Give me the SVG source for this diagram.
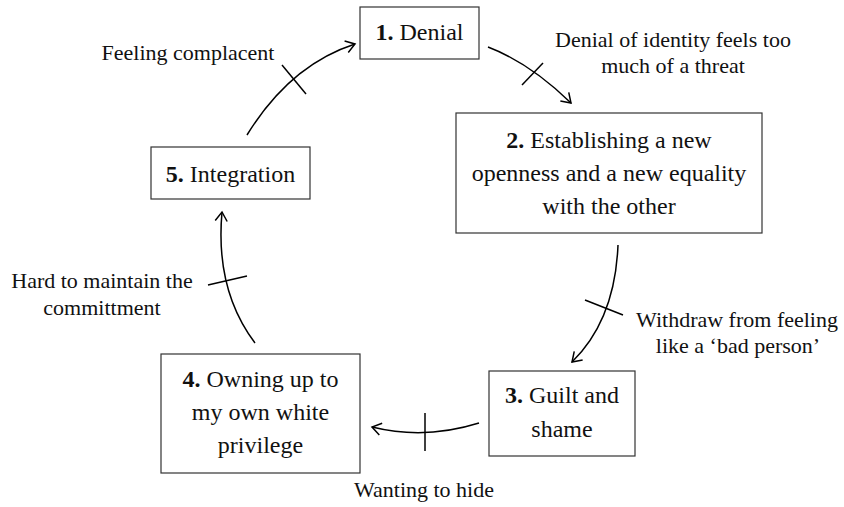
<svg xmlns="http://www.w3.org/2000/svg" width="844" height="507" viewBox="0 0 844 507">
<style>
.box{fill:#fff;stroke:#333;stroke-width:1.2}
text{font-family:'Liberation Serif','DejaVu Serif',serif;fill:#111;text-anchor:middle}
.nt{font-size:24px}
.lt{font-size:22px}
.b{font-weight:bold}
.arr{fill:none;stroke:#000;stroke-width:1.5;marker-end:url(#ah)}
.tick{fill:none;stroke:#000;stroke-width:1.5}
</style>
<defs>
<marker id="ah" markerWidth="14" markerHeight="14" refX="11" refY="7" orient="auto" markerUnits="userSpaceOnUse">
<path d="M2,1 L11,7 L2,13" fill="none" stroke="#000" stroke-width="1.5"/>
</marker>
</defs>
<rect width="844" height="507" fill="#fff"/>
<g id="connectors">
<path class="arr" d="M247,135 Q290,65 355,44"/>
<line class="tick" x1="282" y1="65" x2="306" y2="94"/>
<path class="arr" d="M488,47 Q530,63 571,103"/>
<line class="tick" x1="522" y1="85" x2="543" y2="63"/>
<path class="arr" d="M618,245 Q615,320 572,362"/>
<line class="tick" x1="585" y1="300" x2="623" y2="315"/>
<path class="arr" d="M479,423 Q425,440 372,427"/>
<line class="tick" x1="425" y1="413" x2="425" y2="451"/>
<path class="arr" d="M255,343 Q215,290 222,212"/>
<line class="tick" x1="208" y1="285" x2="247" y2="276"/>
</g>
<g id="labels">
<text class="lt" x="188" y="60" font-family="Liberation Serif">Feeling complacent</text>
<text class="lt" x="673" y="47">Denial of identity feels too</text>
<text class="lt" x="673" y="73">much of a threat</text>
<text class="lt" x="737" y="327">Withdraw from feeling</text>
<text class="lt" x="738" y="353">like a ‘bad person’</text>
<text class="lt" x="424" y="497">Wanting to hide</text>
<text class="lt" x="102" y="288">Hard to maintain the</text>
<text class="lt" x="102" y="315">committment</text>
</g>
<g id="node1">
<rect class="box" x="360" y="7" width="119" height="52"/>
<text class="nt" x="419.5" y="40"><tspan class="b">1.</tspan> Denial</text>
</g>
<g id="node2">
<rect class="box" x="456" y="113" width="306" height="120"/>
<text class="nt" x="609" y="148"><tspan class="b">2.</tspan> Establishing a new</text>
<text class="nt" x="609" y="181">openness and a new equality</text>
<text class="nt" x="609" y="214">with the other</text>
</g>
<g id="node3">
<rect class="box" x="489" y="371" width="146" height="85"/>
<text class="nt" x="562" y="403"><tspan class="b">3.</tspan> Guilt and</text>
<text class="nt" x="562" y="437">shame</text>
</g>
<g id="node4">
<rect class="box" x="161" y="354" width="199" height="119"/>
<text class="nt" x="260.5" y="387"><tspan class="b">4.</tspan> Owning up to</text>
<text class="nt" x="260.5" y="420">my own white</text>
<text class="nt" x="260.5" y="453">privilege</text>
</g>
<g id="node5">
<rect class="box" x="151" y="147" width="159" height="52"/>
<text class="nt" x="230.5" y="182"><tspan class="b">5.</tspan> Integration</text>
</g>
</svg>
